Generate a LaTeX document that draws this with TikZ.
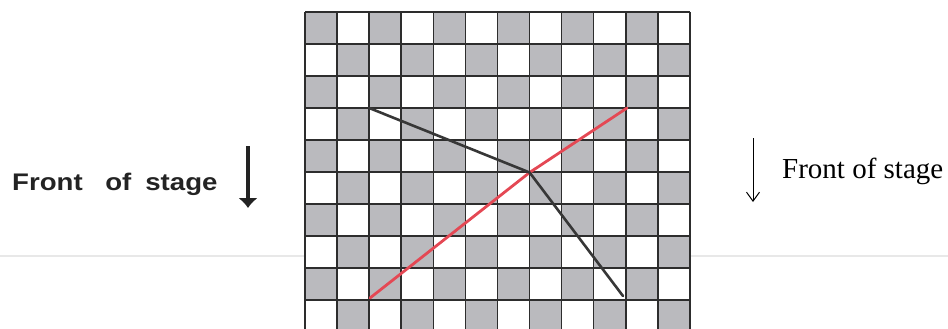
\documentclass[tikz,border=0pt]{standalone}
\usepackage{fontspec}
\setmainfont{Liberation Serif}
\newfontfamily\handfont{Liberation Sans}
\usetikzlibrary{arrows.meta}
\definecolor{cellgray}{RGB}{186,186,190}
\definecolor{gridline}{RGB}{45,45,45}
\definecolor{redline}{RGB}{228,72,84}
\definecolor{pathblack}{RGB}{55,55,55}
\definecolor{inkblack}{RGB}{35,35,35}
\definecolor{seprule}{RGB}{232,232,232}
\tikzset{
  cellfill/.style={fill=cellgray},
  gridstroke/.style={draw=gridline, line width=1.5pt},
  blackpath/.style={draw=pathblack, line width=2.6pt, line join=round, line cap=round},
  redpath/.style={draw=redline, line width=2.8pt, line join=round, line cap=round},
  printlabel/.style={font=\fontsize{29}{34}\selectfont, inner sep=0pt, anchor=base west},
  handlabel/.style={font=\handfont\bfseries\fontsize{24}{28}\selectfont, text=inkblack, inner sep=0pt, anchor=base west, xscale=1.15, transform shape},
  printarrow/.style={draw=black, line width=1pt, -{Straight Barb[length=9pt,width=13pt]}},
  handarrow/.style={draw=inkblack, line width=4.5pt, -{Latex[length=10pt,width=20pt]}}
}
\begin{document}
\begin{tikzpicture}[x=1pt,y=-1pt]
\useasboundingbox (0,0) rectangle (948,329);
% faint separator
\draw[seprule, line width=1.5pt] (0,256) -- (305,256);
\draw[seprule, line width=1.5pt] (690,256) -- (948,256);
% checkerboard
\begin{scope}
\clip (0,0) rectangle (948,329);
\foreach \i in {0,...,11}{
  \foreach \j in {0,...,9}{
    \pgfmathtruncatemacro\parity{mod(\i+\j,2)}
    \ifnum\parity=0
      \fill[cellfill] (305+32.08*\i,12+32*\j) rectangle ++(32.08,32);
    \fi
  }
}
\foreach \i in {0,...,12}
  \draw[gridstroke] (305+32.08*\i,12) -- (305+32.08*\i,335);
\foreach \j in {0,...,10}
  \draw[gridstroke] (305,12+32*\j) -- (690,12+32*\j);
\end{scope}
% paths
\coordinate (bStart) at (369.2,108);
\coordinate (junction) at (529.6,172.5);
\coordinate (bEnd) at (623,296);
\coordinate (rStart) at (370,298);
\coordinate (rEnd) at (627,108);
\draw[redpath] (rStart) -- (junction) -- (rEnd);
\draw[blackpath] (bStart) -- (junction) -- (bEnd);
% right label
\coordinate (raTop) at (753,138);
\coordinate (raBot) at (753,202);
\draw[printarrow] (raTop) -- (raBot);
\node[printlabel] (rlabel) at (782,178) {Front of stage};
% left handwritten label
\node[handlabel] (hlabel) at (12,190) {Front\hspace{13pt} of\hspace{5.5pt} stage};
\coordinate (laTop) at (248,146);
\coordinate (laBot) at (248,208);
\draw[handarrow] (laTop) -- (laBot);
\end{tikzpicture}
\end{document}
